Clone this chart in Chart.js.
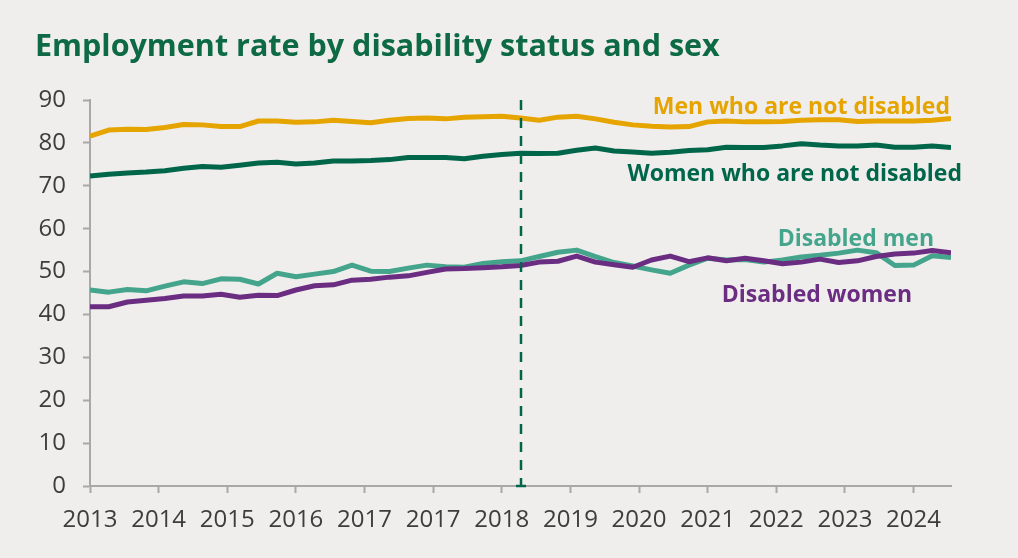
<!DOCTYPE html>
<html>
<head>
<meta charset="utf-8">
<script src="https://cdn.jsdelivr.net/npm/chart.js@4"></script>
<style>
  html, body { margin: 0; padding: 0; background: #efeeec; }
  #wrap { width: 1018px; height: 558px; }
</style>
</head>
<body>
<div id="wrap"><canvas id="employmentChart" width="1018" height="558"></canvas></div>
<script>
// quarterly employment rates (%), first quarter of 2013 onwards
const menNotDisabled = [
  81.6, 83.0, 83.2, 83.1, 83.6, 84.3, 84.2, 83.8, 83.8, 85.1, 85.1, 84.8,
  84.9, 85.3, 85.0, 84.7, 85.3, 85.7, 85.8, 85.6, 86.0, 86.1, 86.2, 85.8,
  85.3, 86.0, 86.2, 85.6, 84.8, 84.2, 83.9, 83.7, 83.8, 84.9, 85.1, 84.9,
  84.9, 85.0, 85.3, 85.4, 85.4, 85.0, 85.1, 85.1, 85.1, 85.3, 85.7
];
const womenNotDisabled = [
  72.3, 72.7, 73.0, 73.2, 73.5, 74.1, 74.5, 74.3, 74.8, 75.3, 75.5, 75.1,
  75.3, 75.8, 75.8, 75.9, 76.1, 76.6, 76.6, 76.6, 76.3, 76.9, 77.3, 77.6,
  77.5, 77.6, 78.3, 78.8, 78.1, 77.9, 77.6, 77.8, 78.2, 78.4, 79.0, 78.9,
  78.9, 79.3, 79.8, 79.5, 79.3, 79.3, 79.5, 79.0, 79.0, 79.3, 78.9
];
const disabledMen = [
  45.7, 45.2, 45.8, 45.5, 46.6, 47.6, 47.2, 48.3, 48.2, 47.1, 49.6, 48.8,
  49.4, 50.0, 51.5, 50.1, 50.0, 50.8, 51.5, 51.1, 51.0, 51.9, 52.3, 52.5,
  53.5, 54.5, 55.0, 53.5, 52.1, 51.3, 50.4, 49.6, 51.5, 53.1, 52.7, 52.8,
  52.2, 52.7, 53.4, 53.8, 54.3, 55.0, 54.4, 51.4, 51.5, 53.7, 53.3
];
const disabledWomen = [
  41.8, 41.8, 42.9, 43.3, 43.7, 44.3, 44.3, 44.7, 44.0, 44.5, 44.4, 45.7,
  46.7, 46.9, 48.0, 48.2, 48.7, 49.0, 49.8, 50.6, 50.7, 50.9, 51.1, 51.4,
  52.2, 52.4, 53.6, 52.2, 51.6, 51.0, 52.7, 53.6, 52.3, 53.2, 52.5, 53.1,
  52.5, 51.8, 52.2, 52.9, 52.1, 52.5, 53.5, 54.1, 54.3, 54.9, 54.4
];
const yearLabels = ['2013', '2014', '2015', '2016', '2017', '2017', '2018',
  '2019', '2020', '2021', '2022', '2023', '2024'];
// quarter where the survey series was changed
const breakQuarter = 23;

const quarters = menNotDisabled.map((_, i) => i);

const COLORS = {
  men: '#e6a400',
  women: '#00664a',
  disMen: '#45a58c',
  disWomen: '#6a2d82',
  axis: '#a8a8a8',
  text: '#3d3d3d',
  bg: '#efeeec'
};
const FONT = "'Open Sans', 'Noto Sans', sans-serif";

// year ticks sit every 11/3 quarters across the axis
const yearStep = 44 / 12;

const decorPlugin = {
  id: 'decor',
  beforeDraw(chart) {
    const ctx = chart.ctx;
    ctx.save();
    ctx.fillStyle = COLORS.bg;
    ctx.fillRect(0, 0, chart.width, chart.height);
    ctx.restore();
  },
  afterDatasetsDraw(chart) {
    const ctx = chart.ctx;
    const area = chart.chartArea;
    const x = Math.round(chart.scales.x.getPixelForValue(breakQuarter));
    ctx.save();
    ctx.strokeStyle = COLORS.women;
    ctx.lineWidth = 2.5;
    ctx.setLineDash([10, 8]);
    ctx.beginPath();
    ctx.moveTo(x, area.top);
    ctx.lineTo(x, area.bottom);
    ctx.stroke();
    ctx.setLineDash([]);
    ctx.beginPath();
    ctx.moveTo(x - 5, area.bottom);
    ctx.lineTo(x + 5, area.bottom);
    ctx.stroke();
    ctx.restore();
  },
  afterDraw(chart) {
    const ctx = chart.ctx;
    ctx.save();
    ctx.fillStyle = '#0d6a45';
    ctx.font = `bold 30.5px ${FONT}`;
    ctx.textAlign = 'left';
    ctx.textBaseline = 'alphabetic';
    ctx.fillText('Employment rate by disability status and sex', 35, 56);

    ctx.font = `bold 23px ${FONT}`;
    ctx.textAlign = 'right';
    ctx.fillStyle = COLORS.men;
    ctx.fillText('Men who are not disabled', 950, 114);
    ctx.fillStyle = COLORS.women;
    ctx.fillText('Women who are not disabled', 962, 181);
    ctx.fillStyle = COLORS.disMen;
    ctx.fillText('Disabled men', 934, 246);
    ctx.fillStyle = COLORS.disWomen;
    ctx.fillText('Disabled women', 912, 302);
    ctx.restore();
  }
};

function series(data, color) {
  return {
    data: data,
    borderColor: color,
    backgroundColor: color,
    borderWidth: 5,
    pointRadius: 0,
    tension: 0,
    borderJoinStyle: 'round',
    borderCapStyle: 'butt'
  };
}

new Chart(document.getElementById('employmentChart'), {
  type: 'line',
  data: {
    labels: quarters,
    datasets: [
      series(disabledWomen, COLORS.disWomen),
      series(disabledMen, COLORS.disMen),
      series(womenNotDisabled, COLORS.women),
      series(menNotDisabled, COLORS.men)
    ]
  },
  options: {
    responsive: false,
    animation: false,
    layout: { padding: { left: 0, top: 100, right: 67, bottom: 0 } },
    plugins: {
      legend: { display: false },
      title: { display: false },
      tooltip: { enabled: false }
    },
    scales: {
      x: {
        type: 'linear',
        min: 0,
        max: quarters.length - 1,
        afterBuildTicks(scale) {
          scale.ticks = yearLabels.map((_, k) => ({ value: k * yearStep }));
        },
        afterFit(scale) { scale.height = 72; },
        ticks: {
          autoSkip: false,
          maxRotation: 0,
          padding: 13,
          color: COLORS.text,
          font: { family: FONT, size: 24 },
          callback: (v, i) => yearLabels[i]
        },
        grid: {
          drawOnChartArea: false,
          drawTicks: true,
          tickLength: 7,
          tickWidth: 2,
          tickColor: COLORS.axis
        },
        border: { color: COLORS.axis, width: 2 }
      },
      y: {
        min: 0,
        max: 90,
        afterFit(scale) { scale.width = 90; },
        ticks: {
          stepSize: 10,
          padding: 17,
          color: COLORS.text,
          font: { family: FONT, size: 24 }
        },
        grid: {
          drawOnChartArea: false,
          drawTicks: true,
          tickLength: 7,
          tickWidth: 2,
          tickColor: COLORS.axis
        },
        border: { color: COLORS.axis, width: 2 }
      }
    }
  },
  plugins: [decorPlugin]
});
</script>
</body>
</html>
